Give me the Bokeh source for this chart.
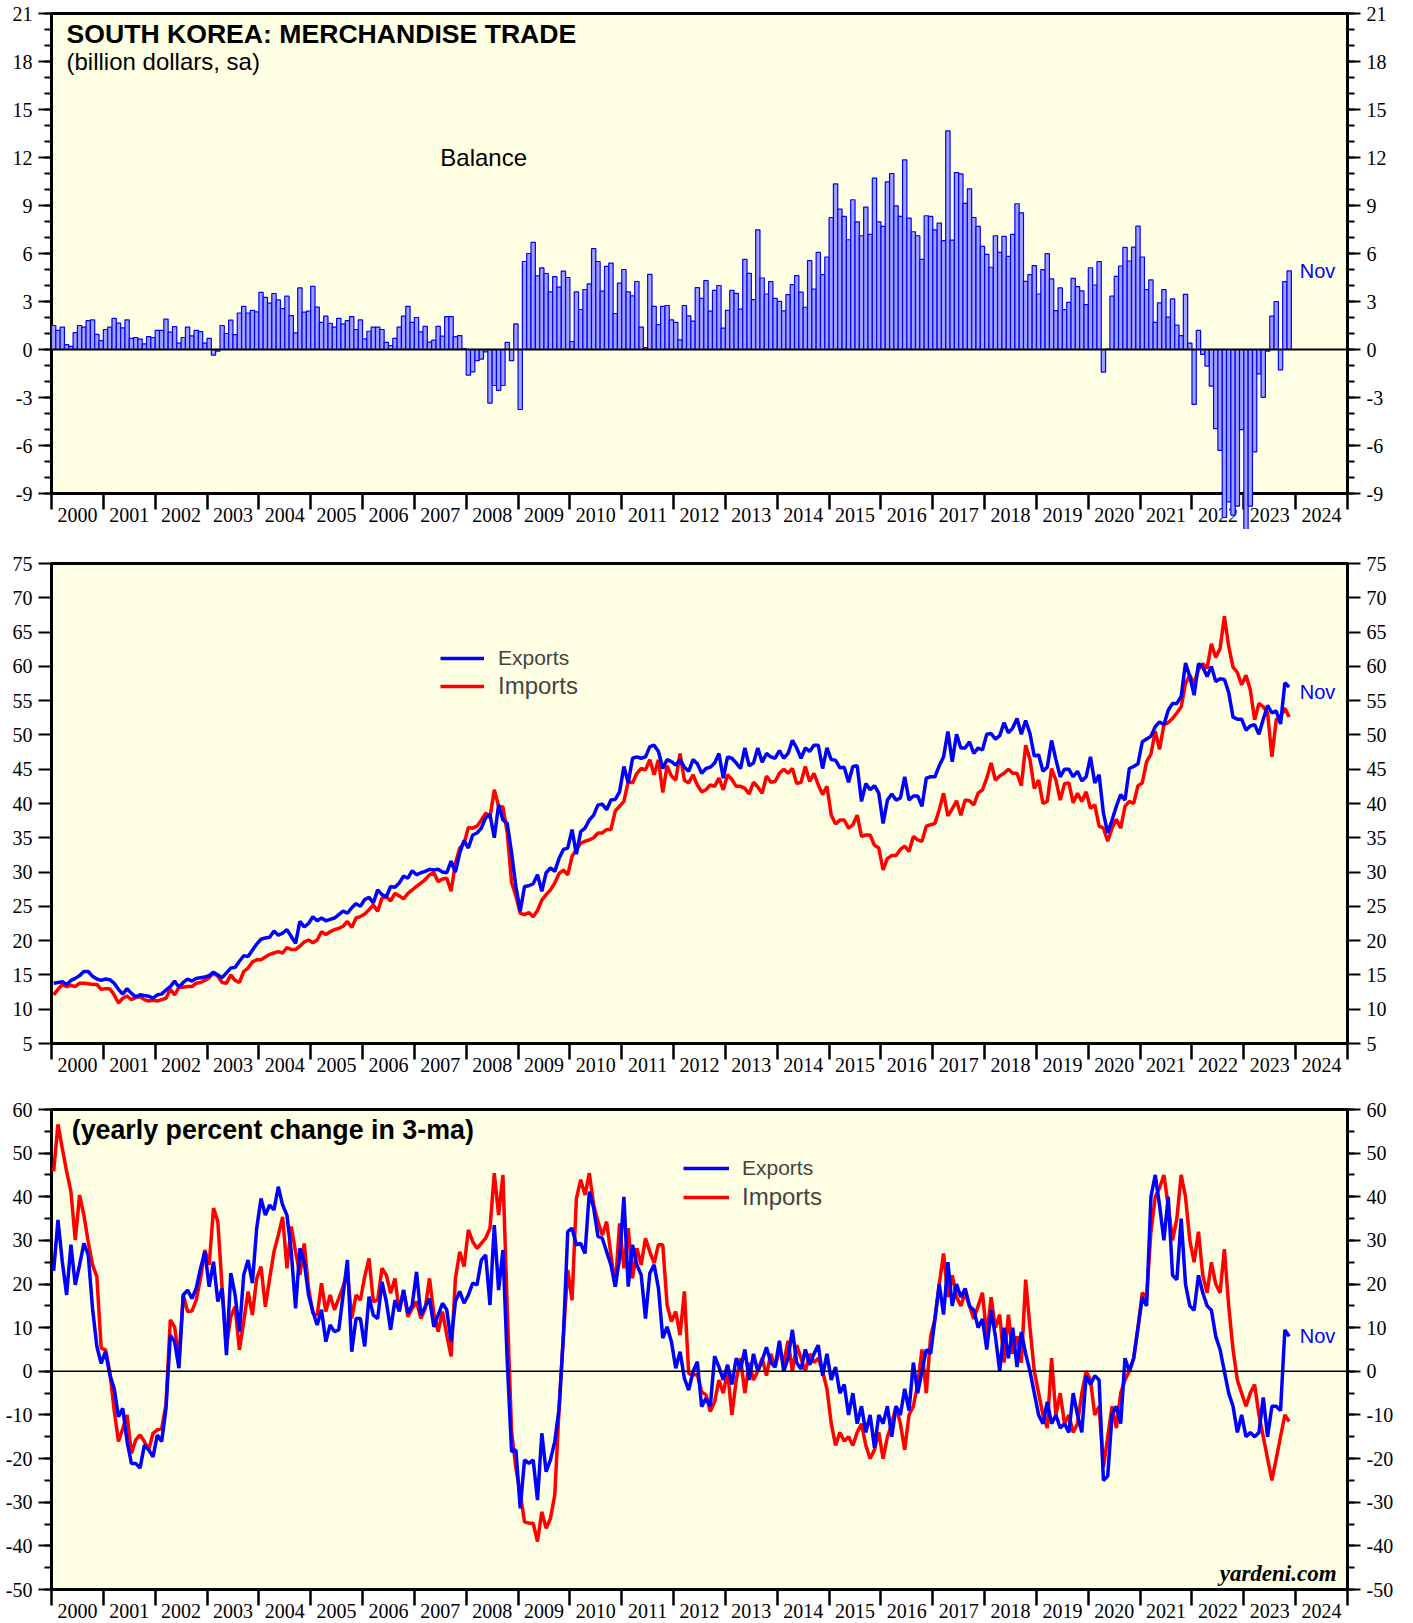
import numpy as np
from bokeh.plotting import figure
from bokeh.models import (FixedTicker, LinearAxis, Range1d, Span, Label, Legend,
                          LegendItem, CustomJSTickFormatter, ColumnDataSource)
from bokeh.layouts import column
from bokeh.embed import file_html
from bokeh.resources import INLINE

# ---------------- data (monthly, Jan 2000 - Nov 2023) ----------------
year_labels = [str(y) for y in range(2000, 2025)]

balance = [
    1.5, 1.2, 1.4, 0.3, 0.2, 1.05, 1.5, 1.4, 1.8, 1.85, 0.95, 0.55,
    1.25, 1.4, 1.95, 1.65, 1.35, 1.85, 0.7, 0.75, 0.65, 0.35, 0.8, 0.75,
    1.2, 1.2, 1.9, 1.08, 1.43, 0.4, 0.75, 1.4, 0.85, 1.2, 1.12, 0.4,
    0.7, -0.35, -0.1, 1.5, 1.0, 1.83, 0.93, 2.28, 2.7, 2.28, 2.45, 2.35,
    3.57, 3.26, 2.9, 3.5, 3.1, 2.55, 3.33, 2.12, 1.04, 3.85, 2.33, 2.4,
    3.95, 2.65, 1.7, 2.08, 1.64, 1.4, 1.95, 1.6, 1.8, 2.06, 1.25, 1.85,
    0.67, 1.14, 1.4, 1.4, 1.25, 0.45, 0.25, 0.7, 1.4, 2.08, 2.7, 1.7,
    2.0, 1.1, 1.45, 0.46, 0.58, 1.45, 0.83, 2.06, 2.06, 0.8, 0.87, 0.05,
    -1.6, -1.4, -0.7, -0.6, -0.15, -3.35, -2.25, -2.55, -2.25, 0.45, -0.7, 1.6,
    -3.75, 5.5, 6.0, 6.7, 4.6, 5.1, 4.75, 3.6, 4.55, 3.9, 4.9, 4.5,
    0.5, 3.6, 2.5, 3.75, 4.1, 6.3, 5.5, 3.65, 5.2, 5.4, 2.25, 4.15,
    5.0, 3.6, 3.35, 4.25, 1.4, 0.12, 4.7, 2.7, 1.55, 2.7, 2.75, 1.85,
    1.7, 0.6, 2.75, 2.1, 1.77, 3.87, 3.2, 4.3, 2.4, 3.7, 4.0, 1.33,
    2.45, 3.70, 3.51, 2.52, 5.63, 4.76, 3.12, 7.48, 4.47, 3.47, 4.24, 3.20,
    3.01, 2.41, 3.43, 4.05, 4.62, 3.58, 2.64, 5.55, 3.78, 6.07, 4.68, 5.78,
    8.25, 10.35, 8.77, 8.32, 6.86, 9.36, 7.98, 7.11, 8.90, 7.19, 10.71, 7.98,
    7.69, 10.48, 11.0, 8.98, 8.32, 11.85, 8.21, 7.36, 7.11, 5.63, 8.36, 8.32,
    7.48, 7.90, 6.80, 13.66, 6.84, 11.06, 10.98, 9.13, 10.04, 8.25, 7.69, 6.44,
    5.95, 5.14, 7.11, 6.07, 7.07, 5.82, 7.19, 9.11, 8.54, 4.26, 4.68, 5.24,
    3.47, 4.99, 5.99, 4.41, 2.43, 3.85, 2.49, 2.95, 4.45, 3.93, 3.66, 2.81,
    5.11, 4.03, 5.49, -1.41, 0.02, 3.33, 4.57, 5.22, 6.38, 5.53, 6.40, 7.71,
    5.78, 3.74, 4.35, 1.70, 2.91, 3.74, 2.02, 3.16, 1.52, 0.87, 3.45, 0.40,
    -3.43, 1.19, -0.31, -1.04, -2.29, -4.95, -6.30, -10.50, -9.52, -10.35, -9.79, -5.01,
    -11.66, -9.79, -6.40, -1.52, -2.99, -0.10, 2.08, 2.99, -1.27, 4.24, 4.91,
]

exports = [
    13.8, 13.9, 14.0, 13.6, 14.2, 14.5, 14.9, 15.5, 15.5, 14.8, 14.4, 14.2,
    14.4, 14.3, 13.8, 12.9, 12.2, 13.0, 12.3, 11.8, 12.1, 12.0, 11.9, 11.6,
    12.1, 12.2, 12.8, 13.3, 14.1, 13.2, 13.9, 14.4, 14.1, 14.5, 14.6, 14.7,
    14.9, 15.4, 15.0, 14.6, 15.3, 16.0, 16.1, 17.0, 17.8, 17.7, 18.6, 19.5,
    20.2, 20.4, 20.5, 21.4, 20.8, 21.1, 21.6, 20.6, 19.6, 22.8, 22.0, 22.5,
    23.5, 22.9, 23.3, 22.9, 23.1, 23.3, 23.8, 24.3, 24.0, 24.8, 25.4, 25.0,
    26.0, 26.3, 25.5, 27.4, 26.7, 26.4, 27.9, 27.8, 28.4, 29.4, 29.1, 30.2,
    29.6, 29.9, 30.1, 30.4, 30.3, 30.4, 30.0, 29.9, 31.6, 30.0, 32.8, 34.6,
    33.5, 35.4, 35.7, 36.4, 37.9, 38.4, 35.0, 39.8, 37.6, 37.1, 32.8, 27.9,
    24.3, 27.9, 28.0, 28.3, 29.6, 27.2, 29.9, 30.6, 30.1, 32.0, 33.3, 33.5,
    36.2, 32.6, 35.9, 36.4, 37.6, 38.3, 39.8, 39.9, 39.1, 40.5, 40.6, 41.7,
    45.4, 43.0, 46.6, 46.8, 46.6, 46.8, 48.3, 48.5, 47.6, 45.1, 46.4, 46.1,
    45.6, 46.4, 45.3, 44.7, 46.4, 45.8, 44.4, 45.1, 45.3, 45.9, 47.3, 43.7,
    46.8, 46.6, 45.9, 45.1, 48.1, 45.5, 45.9, 48.1, 46.0, 47.3, 46.8, 46.6,
    47.7, 46.6, 47.3, 49.2, 48.1, 46.6, 48.1, 47.6, 48.5, 48.5, 45.1, 48.1,
    46.4, 46.3, 45.2, 45.3, 43.1, 45.4, 45.5, 40.3, 42.9, 42.0, 42.6, 41.5,
    37.1, 40.5, 41.4, 40.5, 40.8, 43.9, 40.5, 41.1, 41.1, 39.6, 43.7, 43.9,
    43.9, 45.5, 46.8, 50.5, 46.1, 50.1, 48.1, 48.1, 49.0, 47.3, 48.1, 47.8,
    50.1, 50.2, 49.4, 49.9, 51.8, 50.3, 51.0, 52.4, 50.1, 52.1, 50.2, 46.9,
    47.1, 44.7, 45.3, 49.2, 46.4, 43.9, 45.0, 45.0, 43.9, 44.7, 43.3, 43.9,
    46.8, 43.0, 44.2, 38.6, 35.7, 37.6, 39.6, 41.3, 40.5, 45.1, 45.4, 45.8,
    49.0, 49.4, 49.8, 51.2, 51.9, 51.5, 53.6, 54.6, 54.6, 55.6, 60.5, 58.5,
    55.8, 60.4, 59.9, 58.5, 60.0, 57.8, 58.2, 58.1, 56.2, 52.6, 52.3, 52.3,
    50.7, 51.3, 51.5, 50.1, 52.3, 54.3, 53.2, 53.5, 51.6, 57.6, 57.0,
]

imports = [
    12.1, 12.9, 13.6, 13.3, 13.5, 13.3, 13.8, 13.8, 13.7, 13.6, 13.6, 12.9,
    13.0, 13.0, 12.1, 10.9, 11.6, 11.9, 11.4, 11.7, 11.8, 11.4, 11.2, 11.3,
    11.2, 11.4, 11.6, 12.9, 12.1, 13.2, 13.2, 13.3, 13.3, 13.8, 13.9, 14.2,
    14.6, 15.3, 14.8, 13.9, 13.8, 15.0, 14.2, 13.9, 15.5, 16.0, 16.9, 17.2,
    17.2, 17.6, 18.0, 18.2, 18.4, 18.2, 19.0, 18.7, 18.7, 19.2, 19.8, 20.1,
    19.7, 20.1, 21.3, 20.9, 21.3, 21.6, 21.8, 22.1, 22.8, 21.9, 23.3, 23.5,
    23.9, 24.5, 25.2, 24.3, 26.2, 26.4, 25.8, 26.9, 26.5, 26.1, 26.9, 27.4,
    27.9, 28.4, 28.9, 29.6, 29.9, 28.6, 29.0, 29.1, 27.2, 31.3, 33.5, 34.2,
    36.5, 36.4, 36.7, 37.6, 38.6, 38.0, 42.0, 39.6, 39.5, 35.7, 28.5, 26.5,
    24.0, 23.8, 24.1, 23.5, 24.4, 25.9, 26.7, 27.4, 28.4, 29.8, 30.3, 29.6,
    32.3, 33.3, 34.2, 34.5, 34.7, 35.0, 35.7, 35.7, 36.2, 36.2, 38.9, 39.6,
    40.3, 43.2, 43.0, 44.4, 45.1, 44.9, 46.4, 44.2, 46.4, 41.6, 45.5, 44.0,
    43.4, 47.3, 43.4, 43.0, 44.2, 42.7, 41.7, 42.0, 42.7, 42.5, 43.7, 42.0,
    44.2, 43.5, 42.5, 42.5, 42.2, 41.4, 43.1, 42.4, 41.5, 44.0, 43.1, 43.2,
    44.4, 45.0, 44.4, 45.1, 42.9, 43.1, 45.4, 43.2, 44.4, 42.7, 41.3, 42.5,
    38.3, 37.0, 37.6, 37.6, 36.4, 36.9, 38.3, 35.2, 35.4, 35.4, 33.9, 33.5,
    30.3, 32.0, 32.4, 32.4, 33.3, 33.8, 33.0, 35.2, 34.7, 34.5, 36.7, 36.9,
    37.1, 39.1, 41.5, 38.2, 39.2, 40.4, 38.3, 40.5, 40.4, 39.8, 41.5, 42.0,
    43.7, 45.9, 43.4, 44.0, 44.4, 45.0, 44.4, 44.4, 42.6, 48.5, 46.4, 42.2,
    43.4, 40.0, 40.3, 45.1, 43.4, 40.5, 42.9, 43.0, 40.1, 41.5, 40.3, 41.7,
    39.3, 39.8, 36.7, 36.4, 34.5, 36.4, 37.7, 36.4, 39.6, 40.3, 40.0, 42.6,
    43.0, 46.1, 47.2, 50.5, 47.9, 51.5, 51.8, 52.4, 53.2, 54.1, 57.5, 58.7,
    57.5, 59.5, 60.4, 59.7, 63.3, 61.3, 62.6, 67.3, 62.9, 59.9, 59.1, 57.3,
    58.7, 56.6, 52.2, 54.6, 54.1, 53.2, 46.8, 52.2, 52.7, 53.9, 52.6,
]

exports_yoy = [
    23.0, 34.7, 25.1, 17.5, 29.0, 19.8, 24.4, 29.3, 26.7, 14.4, 5.7, 1.8,
    4.5, -0.8, -3.9, -10.4, -8.5, -16.1, -21.1, -21.1, -22.2, -16.9, -18.0, -19.6,
    -14.6, -16.1, -8.5, 8.3, 6.8, 0.7, 17.5, 18.6, 16.7, 19.0, 23.6, 27.4,
    19.4, 25.1, 16.0, 19.0, 3.7, 22.5, 17.5, 9.1, 22.1, 25.5, 20.2, 32.8,
    39.6, 35.8, 38.1, 37.0, 42.3, 38.1, 35.8, 27.4, 14.4, 28.2, 25.1, 17.5,
    13.7, 10.6, 14.1, 6.8, 10.6, 9.1, 9.5, 17.5, 25.5, 4.5, 12.1, 12.1,
    5.7, 17.1, 12.9, 12.1, 20.5, 16.0, 9.5, 16.3, 13.8, 18.6, 13.3, 15.2,
    22.8, 12.9, 14.8, 16.7, 10.2, 12.9, 15.6, 14.1, 6.8, 16.0, 18.3, 15.6,
    17.5, 20.2, 19.8, 25.5, 26.7, 15.2, 33.5, 18.6, 27.8, 2.2, -18.4, -18.0,
    -31.4, -20.3, -21.1, -20.3, -29.5, -14.2, -23.0, -20.3, -16.1, -8.5, 8.3, 32.0,
    32.8, 29.0, 29.3, 27.0, 41.2, 37.4, 30.9, 30.5, 27.4, 24.4, 19.4, 25.9,
    40.0, 19.4, 29.0, 24.4, 22.1, 12.1, 22.5, 24.4, 19.0, 7.6, 10.2, 6.8,
    0.7, 4.5, -1.6, -4.3, -0.1, 2.2, -8.1, -6.2, -8.0, 3.5, 1.0, -2.0,
    1.5, -3.0, 3.0, 0.5, 5.0, -2.0, 4.0, 0.0, 2.5, 5.5, 2.0, 1.0,
    7.0, 0.0, 3.0, 9.5, 2.0, 0.5, 5.0, 1.5, 4.0, 6.0, -1.0, 4.0,
    -2.0, 1.0, -5.0, -3.0, -10.0, -5.0, -12.0, -8.0, -14.0, -10.0, -17.5, -10.0,
    -12.0, -8.0, -15.0, -8.0, -10.0, -4.0, -9.0, 2.0, -5.0, 0.0, 5.0, 4.0,
    12.0, 20.0, 13.0, 25.0, 15.0, 20.0, 17.0, 19.0, 15.0, 14.0, 10.0, 12.0,
    5.0, 14.0, 8.0, 0.0, 10.0, 3.0, 10.0, 1.0, 9.0, 4.0, 0.0, -5.0,
    -10.0, -12.0, -7.0, -12.0, -10.0, -13.0, -12.0, -14.0, -5.0, -10.0, -14.0, -1.0,
    -3.0, -1.0, -2.0, -25.0, -24.0, -10.0, -8.0, -12.0, 3.0, 0.0, 3.0, 10.0,
    17.0, 15.0, 40.0, 45.0, 38.0, 30.0, 40.0, 22.0, 21.0, 35.0, 20.0, 15.0,
    14.0, 22.0, 18.0, 15.0, 14.0, 8.0, 5.0, 0.0, -5.0, -8.0, -14.0, -10.0,
    -15.0, -14.0, -15.0, -14.0, -6.0, -15.0, -8.0, -8.0, -9.0, 9.5, 8.0,
]

imports_yoy = [
    45.8, 56.6, 51.1, 45.8, 41.2, 30.1, 40.4, 35.8, 29.7, 24.4, 21.7, 5.3,
    4.9, -0.1, -8.9, -16.1, -13.1, -10.0, -18.8, -15.7, -14.6, -16.1, -18.0, -14.2,
    -13.4, -13.1, -7.7, 11.8, 10.2, 2.6, 17.5, 13.7, 13.8, 16.3, 21.3, 27.8,
    24.4, 37.4, 34.3, 19.0, 6.0, 12.5, 14.8, 4.9, 11.4, 18.3, 12.9, 21.3,
    24.0, 14.8, 21.3, 27.4, 31.2, 35.4, 23.6, 33.2, 27.4, 22.1, 29.3, 19.0,
    13.3, 12.9, 20.2, 13.7, 17.5, 14.1, 16.7, 19.4, 22.8, 12.1, 17.5, 16.3,
    21.7, 25.9, 16.0, 16.3, 23.6, 22.1, 17.9, 21.3, 13.7, 18.6, 12.5, 14.4,
    16.0, 12.1, 14.4, 21.3, 13.3, 9.1, 13.7, 8.3, 3.4, 21.3, 27.4, 24.0,
    32.4, 29.7, 28.2, 29.3, 30.5, 32.8, 45.4, 35.8, 45.0, 14.4, -13.8, -22.2,
    -28.0, -34.5, -34.8, -34.8, -39.0, -32.2, -36.0, -33.7, -28.3, -8.5, 8.3, 23.2,
    16.3, 39.6, 43.9, 40.4, 45.4, 38.1, 34.3, 31.2, 34.3, 26.7, 19.4, 33.9,
    23.6, 32.8, 21.3, 28.2, 24.4, 30.5, 27.4, 24.8, 29.0, 29.0, 15.2, 11.4,
    13.7, 8.3, 18.3, -0.5, -0.8, -0.8, -4.7, -5.4, -9.2, -7.0, -2.0, -5.0,
    0.0, -10.0, -2.0, 3.0, -5.0, 2.0, -2.0, 0.0, 3.0, -1.0, 4.0, 1.0,
    5.0, 2.0, 7.0, 0.0, 6.0, 3.0, 0.0, 4.0, 2.0, 3.0, 0.0, -4.0,
    -12.0, -17.0, -14.0, -16.0, -15.0, -17.0, -14.0, -12.0, -17.0, -20.0, -18.0, -14.0,
    -20.0, -15.0, -12.0, -8.0, -12.0, -18.0, -10.0, -8.0, -3.0, 5.0, -5.0, 8.0,
    12.0, 20.0, 27.0, 17.0, 22.0, 17.0, 15.0, 18.0, 15.0, 12.0, 15.0, 18.0,
    8.0, 17.0, 10.0, 13.0, 2.0, 13.0, 4.0, 8.0, 2.0, 21.0, 10.0, 0.0,
    -5.0, -10.0, -13.0, 3.0, -10.0, -5.0, -12.0, -10.0, -14.0, -12.0, -5.0, 0.0,
    -2.0, -10.0, -8.0, -22.0, -15.0, -8.0, -13.0, -5.0, -2.0, 0.0, 3.0, 10.0,
    18.0, 17.0, 32.0, 40.0, 42.0, 45.0, 38.0, 30.0, 35.0, 45.0, 40.0, 30.0,
    25.0, 32.0, 22.0, 18.0, 25.0, 20.0, 18.0, 28.0, 15.0, 5.0, -2.0, -5.0,
    -8.0, -5.0, -3.0, -10.0, -15.0, -20.0, -25.0, -20.0, -15.0, -10.0, -11.5,
]

# ---------------- helpers ----------------
START = 2000
months = np.arange(len(balance))
xm = START + (months + 0.5) / 12.0

BG = "#FFFFE3"
TICK_FONT = "Liberation Serif"
SANS = "Liberation Sans"
BLUE = "#0000FF"
RED = "#FF0000"
FRAME_H = 480


def make_fig(y0, y1, ticks, minors, top, bottom):
    p = figure(frame_width=1296, frame_height=FRAME_H, x_range=Range1d(2000, 2025),
               y_range=Range1d(y0, y1), output_backend="svg", toolbar_location=None,
               min_border_left=51, min_border_right=50, min_border_top=top,
               min_border_bottom=bottom, background_fill_color=BG,
               border_fill_color="white", outline_line_color="black",
               outline_line_width=3)
    p.grid.visible = False
    xa = p.xaxis[0]
    xa.ticker = FixedTicker(ticks=[y + 0.5 for y in range(2000, 2025)],
                            minor_ticks=list(range(2000, 2026)))
    xa.formatter = CustomJSTickFormatter(args=dict(labels=year_labels),
                                         code="const i = Math.floor(tick) - 2000; return labels[i] || '';")
    xa.axis_line_color = None
    xa.major_tick_out = 0
    xa.major_tick_in = 0
    xa.minor_tick_out = 16
    xa.minor_tick_in = 0
    xa.minor_tick_line_width = 2.5
    xa.minor_tick_line_color = "black"
    xa.major_label_standoff = -2
    xa.major_label_text_font = TICK_FONT
    xa.major_label_text_font_size = "20px"
    xa.major_label_text_color = "black"
    ya = p.yaxis[0]
    yr = LinearAxis()
    p.add_layout(yr, "right")
    for ax in (ya, yr):
        ax.ticker = FixedTicker(ticks=ticks, minor_ticks=minors)
        ax.formatter = CustomJSTickFormatter(code="return tick.toString();")
        ax.axis_line_color = None
        ax.major_tick_out = 13
        ax.major_tick_in = 0
        ax.minor_tick_out = 7
        ax.minor_tick_in = 0
        ax.major_tick_line_width = 2
        ax.minor_tick_line_width = 2
        ax.major_tick_line_color = "black"
        ax.minor_tick_line_color = "black"
        ax.major_label_standoff = 6
        ax.major_label_text_font = TICK_FONT
        ax.major_label_text_font_size = "20px"
        ax.major_label_text_color = "black"
    return p


def add_label(p, x, y, text, size, bold=False, color="black", font=SANS, align="left", style=None):
    p.add_layout(Label(x=x, y=y, text=text, text_font=font, text_font_size=size,
                       text_font_style=style if style else ("bold" if bold else "normal"),
                       text_color=color, text_align=align, text_baseline="middle"))


def add_legend_item(p, renderer, label, size, vx, vy, glyph_width, standoff):
    leg = Legend(items=[LegendItem(label=label, renderers=[renderer])], location=(vx, vy),
                 glyph_width=glyph_width, glyph_height=28, label_height=28,
                 label_text_font=SANS, label_text_font_size=size, label_standoff=standoff,
                 padding=0, margin=0, spacing=0, border_line_color=None,
                 background_fill_alpha=0)
    p.add_layout(leg, "center")


# ---------------- panel 1: balance ----------------
p1 = make_fig(-9, 21, list(range(-9, 22, 3)), list(range(-9, 22)), 13, 36)
src1 = ColumnDataSource(dict(x=xm, top=balance))
bars = p1.vbar(x="x", top="top", bottom=0, width=1 / 12, source=src1,
               fill_color="#A0A0FF", line_color=BLUE, line_width=1.2)
bars.level = "overlay"
z1 = Span(location=0, dimension="width", line_color="black", line_width=2)
z1.level = "overlay"
p1.add_layout(z1)
add_label(p1, 2000.29, 19.72, "SOUTH KOREA: MERCHANDISE TRADE", "26.6px", bold=True)
add_label(p1, 2000.29, 17.97, "(billion dollars, sa)", "24px")
add_label(p1, 2007.50, 12.03, "Balance", "24px")
add_label(p1, 2024.08, 4.9, "Nov", "20px", color=BLUE)

# ---------------- panel 2: levels ----------------
p2 = make_fig(5, 75, list(range(5, 76, 5)), [], 34, 36)
src2 = ColumnDataSource(dict(x=xm, exp=exports, imp=imports))
r_imp = p2.line("x", "imp", source=src2, line_color=RED, line_width=3.5)
r_exp = p2.line("x", "exp", source=src2, line_color=BLUE, line_width=3.5)
add_legend_item(p2, r_exp, "Exports", "21px", 389, 371, 44, 14)
add_legend_item(p2, r_imp, "Imports", "24px", 389, 343, 44, 14)
add_label(p2, 2024.08, 56.3, "Nov", "20px", color=BLUE)

# ---------------- panel 3: yoy ----------------
p3 = make_fig(-50, 60, list(range(-50, 61, 10)), list(range(-50, 61, 5)), 30, 30)
src3 = ColumnDataSource(dict(x=xm, exp=exports_yoy, imp=imports_yoy))
z3 = Span(location=0, dimension="width", line_color="black", line_width=1.5)
p3.add_layout(z3)
r_imp3 = p3.line("x", "imp", source=src3, line_color=RED, line_width=3.5)
r_exp3 = p3.line("x", "exp", source=src3, line_color=BLUE, line_width=3.5)
add_legend_item(p3, r_exp3, "Exports", "21px", 632, 407, 46, 13)
add_legend_item(p3, r_imp3, "Imports", "24px", 632, 378, 46, 13)
add_label(p3, 2000.39, 55.4, "(yearly percent change in 3-ma)", "26.8px", bold=True)
add_label(p3, 2024.08, 8.0, "Nov", "20px", color=BLUE)
add_label(p3, 2024.79, -46.3, "yardeni.com", "23px", font="Liberation Serif",
          align="right", style="bold italic")

layout = column(p1, p2, p3, spacing=0)
open("out.html", "w").write(file_html(layout, INLINE))
